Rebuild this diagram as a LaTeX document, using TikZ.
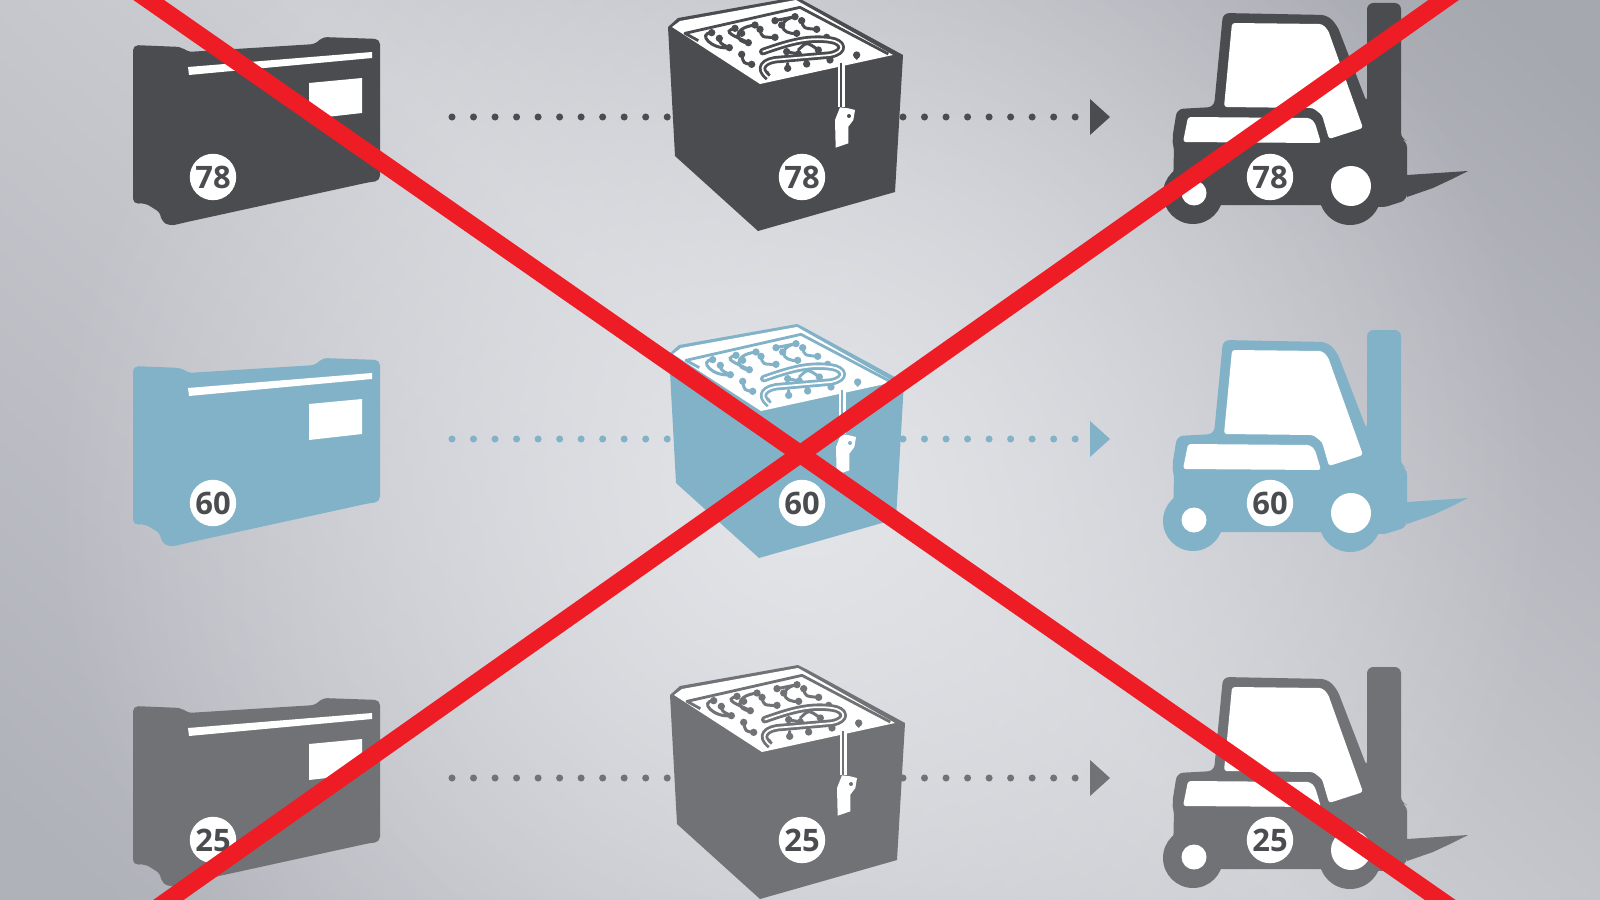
\documentclass[tikz,border=0pt]{standalone}
\usepackage{fontspec}
\newfontfamily\badgefont{Open Sans}
\usetikzlibrary{fadings}
\definecolor{inkdark}{HTML}{4B4C50}
\definecolor{inkblue}{HTML}{82B2C8}
\definecolor{inkgrey}{HTML}{717276}
\definecolor{crossred}{HTML}{EE1C25}
\definecolor{bgtopright}{HTML}{A6A8B0}
\definecolor{bgmid}{HTML}{CDCED3}
\definecolor{bgbotleft}{HTML}{B0B2BA}
\definecolor{spotlight}{HTML}{E4E5E9}
\tikzfading[name=softspot, inner color=transparent!0, outer color=transparent!100]
\tikzset{
  badge/.style={circle,fill=white,minimum size=13.2pt,inner sep=0pt,text=inkdark,font=\badgefont\bfseries\fontsize{8.8}{10}\selectfont},
  dotline/.style={line width=2pt,line cap=round,dash pattern=on 0pt off 6.12pt},
  crossline/.style={crossred,line width=5pt},
  sidebox/.pic={
    \fill[#1,rounded corners=1.5pt] (133,204)--(133,45)--(182,47)--(187,52)--(316,44)--(322,37)--(380,39)--(380,181)--(370,182)--(187,222)--(170,226)--(161,221)--(161,213)--(145,203)--cycle;
    \fill[white] (188,67)--(372,52)--(372,58)--(189,75)--cycle;
    \fill[white] (309,83)--(362,78)--(362,113)--(309,119)--cycle;
  },
  cube/.pic={
    \fill[#1] (668,27)--(678,18)--(796,-3)--(804,1)--(903,55)--(895,192)--(758,231)--(675,156)--cycle;
    \fill[white] (672,27)--(680,21)--(796,0)--(803,4)--(893,55)--(760,84)--cycle;
    \begin{scope}[shift={(640,0)},scale=1/3]
      \draw[#1,line width=0.8pt,line join=round] (175,122)--(135,100)--(480,22)--(745,162);
      \draw[#1,line width=0.85pt,line cap=round]
        (215,98)..controls (170,100) and (215,150)..(268,143)
        (238,115)..controls (240,130)..(268,143)
        (285,85)..controls (240,95) and (290,110)..(325,128)
        (345,75)..controls (270,85) and (290,130)..(325,128)
        (360,88)..controls (365,112)..(405,112)
        (405,62)--(465,50)
        (465,50)..controls (410,60) and (420,105)..(470,100)
        (485,62)..controls (490,85)..(530,88)
        (305,163)..controls (310,190)..(335,193)
        (440,155)--(475,162)
        (475,150)..controls (500,125)..(535,150)
        (560,112)--(600,137)
        (650,165)--(650,175) (570,180)--(570,170) (500,192)--(500,180) (443,205)--(443,190);
      \foreach \dotx/\doty in {215/98,238/115,268/143,285/85,345/75,360/88,305/100,325/128,405/112,405/62,465/50,485/62,530/88,425/75,470/100,560/112,600/137,535/150,475/162,440/155,305/163,335/193,368/155,650/165,570/180,500/192,443/205,378/222}
        \fill[#1] (\dotx,\doty) circle (11);
      \foreach \wirew/\wirec in {2.1pt/#1,0.5pt/white}
        \draw[\wirec,line width=\wirew,line join=round] (385,232)..controls (350,205) and (370,180)..(420,178)--(570,165)..controls (620,155) and (610,125)..(570,120)..controls (500,110) and (440,130)..(368,155);
      \fill[white] (593,188)--(615,188)--(615,322)--(593,322)--cycle;
      \draw[#1,line width=0.5pt] (604,188)--(604,322);
      \fill[white] (600,322)--(625,325)--(645,330)--(640,360)--(625,380)--(625,430)--(587,443)--(585,360)--cycle;
      \fill[#1] (627,348) circle (6);
    \end{scope}
  },
  forklift/.pic={
    \fill[#1] (1407,175)--(1468,171)--(1450,180)--(1433,188)--(1407,197)--cycle;
    \fill[#1,rounded corners=1.8pt] (1367,3)--(1401,3)--(1401,139)--(1407,141)--(1407,200)--(1382,208)--(1370,205)--(1200,205)--(1173,192)--(1174,146)--(1172,140)--(1177,109)--(1214,107)--(1223,13)--(1327,15)--(1337,25)--(1367,103)--cycle;
    \fill[#1] (1193,194) circle (30);
    \fill[#1] (1350,194) circle (31);
    \fill[white] (1194,193) circle (12.5);
    \fill[white] (1351,186) circle (20);
    \fill[white,rounded corners=0.8pt] (1232,23)--(1322,24)--(1328,30)--(1363,128)--(1329,139)--(1322,115)--(1313,108)--(1224,107)--cycle;
    \fill[white,rounded corners=0.8pt] (1188,117)--(1310,118)--(1315,123)--(1321,143)--(1183,142)--cycle;
  },
}
\begin{document}
\begin{tikzpicture}[x=0.01cm,y=-0.01cm,>=stealth]
  \useasboundingbox (0,0) rectangle (1600,900);
  \clip (0,0) rectangle (1600,900);
  \shade[top color=bgtopright,bottom color=bgbotleft,middle color=bgmid,shading angle=-42] (0,-350) rectangle (1600,1250);
  \fill[spotlight,path fading=softspot] (50,-250) rectangle (1550,1250);
  \foreach \i/\ink/\boxdy/\cubedx/\cubedy/\truckdy/\dotsy/\badgey/\num in {a/inkdark/0/0/0/0/117/177/78,b/inkblue/321/1/327/327/439/503/60,c/inkgrey/661/2/668/664/778/840/25}{
    \coordinate (la\i) at (452,\dotsy);
    \coordinate (lb\i) at (672,\dotsy);
    \coordinate (ra\i) at (903,\dotsy);
    \coordinate (rb\i) at (1080,\dotsy);
    \draw[\ink,dotline] (la\i)--(lb\i);
    \draw[\ink,dotline] (ra\i)--(rb\i);
    \fill[\ink] (1090,\dotsy-18)--(1110,\dotsy)--(1090,\dotsy+18)--cycle;
    \pic at (0,\boxdy) {sidebox=\ink};
    \pic at (\cubedx,\cubedy) {cube=\ink};
    \pic at (0,\truckdy) {forklift=\ink};
    \node[badge] (boxn\i) at (213,\badgey) {\num};
    \node[badge] (cuben\i) at (802,\badgey) {\num};
    \node[badge] (truckn\i) at (1270,\badgey) {\num};
  }
  \coordinate (xa) at (120,-20);
  \coordinate (xb) at (1469,920);
  \coordinate (xc) at (1472,-20);
  \coordinate (xd) at (140,920);
  \draw[crossline] (xa)--(xb);
  \draw[crossline] (xc)--(xd);
\end{tikzpicture}
\end{document}
